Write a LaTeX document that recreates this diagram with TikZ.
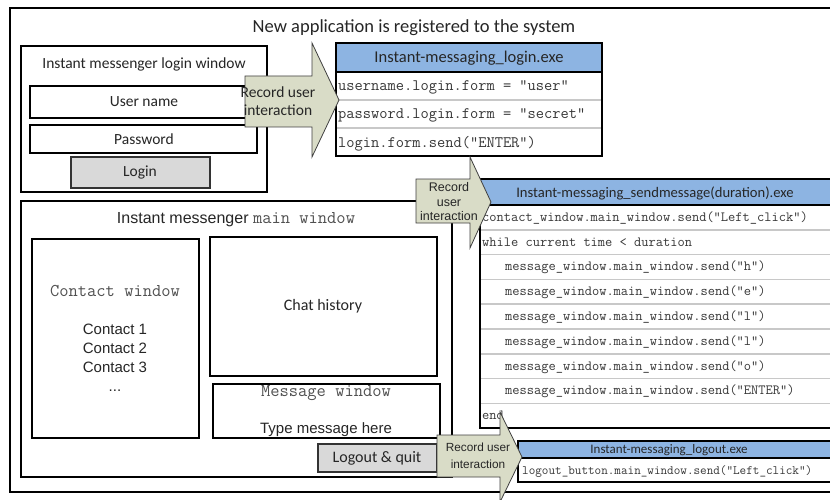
\documentclass[tikz,border=0pt]{standalone}
\usepackage{fontspec}
\setmainfont{Carlito}
\newfontfamily\arialf{Liberation Sans}
\definecolor{arrowfill}{RGB}{217,220,199}
\definecolor{hdrblue}{RGB}{141,180,226}
\definecolor{btngray}{RGB}{217,217,217}
\definecolor{codegray}{RGB}{55,55,55}
\definecolor{sepgray}{RGB}{200,200,200}
\definecolor{monogray}{RGB}{80,80,80}
\tikzset{
  frame/.style={draw=black, line width=1.3pt},
  winbox/.style={draw=black, line width=1.2pt},
  btn/.style={draw=black!80, line width=1.2pt, fill=btngray},
  hdr/.style={draw=black, line width=1.3pt, fill=hdrblue},
  sepline/.style={draw=sepgray, line width=1.5pt},
  recarrow/.style={draw=black!75, line width=0.8pt, fill=arrowfill},
  txt/.style={inner sep=0pt, text=black!85},
  code/.style={inner sep=0pt, anchor=base west, text=codegray},
}
\begin{document}
\begin{tikzpicture}[x=1pt,y=-1pt]
\useasboundingbox (0,0) rectangle (830,500);
\clip (0,0) rectangle (830,500);
\fill[white] (0,0) rectangle (830,500);

% outer frame and title
\draw[frame] (10,8) rectangle (845,492);
\node[txt] (title) at (414,28) {\fontsize{18.5}{22}\selectfont New application is registered to the system};

% login window
\draw[winbox] (21,46) rectangle (267,192);
\node[txt] (logtitle) at (144,64) {\fontsize{15.5}{18}\selectfont Instant messenger login window};
\draw[winbox] (30,86) rectangle (257,118);
\node[txt] (user) at (144,102) {\fontsize{15.5}{18}\selectfont User name};
\draw[winbox] (30,125) rectangle (257,153);
\node[txt] (pass) at (144,139) {\fontsize{15.5}{18}\selectfont Password};
\draw[btn] (71,157) rectangle (210,188);
\node[txt] (login) at (140,172) {\fontsize{15.5}{18}\selectfont Login};

% main window
\draw[winbox] (21,201) rectangle (452,477);
\node[txt, anchor=base] (maintitle) at (236,223) {\arialf\fontsize{16}{19}\selectfont Instant messenger \textcolor{monogray}{\ttfamily\fontsize{18}{20}\selectfont main window}};
\draw[winbox] (32,239) rectangle (199,438);
\node[txt, text=monogray] (contactw) at (115,291) {\ttfamily\fontsize{18}{20}\selectfont Contact window};
\node[txt, align=center, font=\arialf\fontsize{15}{19}\selectfont] (contacts) at (115,358) {Contact 1\\Contact 2\\Contact 3\\...};
\draw[winbox] (210,237) rectangle (437,376);
\node[txt] (chat) at (323,306) {\fontsize{16}{19}\selectfont Chat history};
\draw[winbox] (213,384) rectangle (440,438);
\node[txt, text=monogray] (msgw) at (326,393) {\ttfamily\fontsize{18}{20}\selectfont Message window};
\node[txt] (typemsg) at (326,430) {\arialf\fontsize{15}{18}\selectfont Type message here};
\draw[btn] (318,444) rectangle (437,472);
\node[txt] (logoutbtn) at (377,458) {\fontsize{16}{19}\selectfont Logout \& quit};

% table 1: login
\draw[hdr] (336,43) rectangle (602,72);
\node[txt] (h1) at (469,58) {\fontsize{16.5}{19}\selectfont Instant-messaging\_login.exe};
\draw[sepline] (337,100) -- (601,100);
\draw[sepline] (337,128) -- (601,128);
\draw[winbox] (336,72) rectangle (602,156);
\node[code] (t1a) at (338,91) {\ttfamily\fontsize{16}{18}\selectfont username.login.form = "user"};
\node[code] (t1b) at (338,119) {\ttfamily\fontsize{16}{18}\selectfont password.login.form = "secret"};
\node[code] (t1c) at (338,147) {\ttfamily\fontsize{16}{18}\selectfont login.form.send("ENTER")};

% table 2: sendmessage
\draw[hdr] (480,179) rectangle (840,205);
\node[txt] (h2) at (655,193) {\fontsize{14.6}{17}\selectfont Instant-messaging\_sendmessage(duration).exe};
\foreach \k in {1,...,8} {
  \draw[sepline] (481,205+\k*24.8) -- (839,205+\k*24.8);
}
\draw[winbox] (480,205) rectangle (840,428);
\foreach \k/\s/\ind in {
  1/{contact\_window.main\_window.send("Left\_click")}/0,
  2/{while current time < duration}/0,
  3/{message\_window.main\_window.send("h")}/1,
  4/{message\_window.main\_window.send("e")}/1,
  5/{message\_window.main\_window.send("l")}/1,
  6/{message\_window.main\_window.send("l")}/1,
  7/{message\_window.main\_window.send("o")}/1,
  8/{message\_window.main\_window.send("ENTER")}/1,
  9/{end}/0} {
  \node[code] (t2r\k) at (482+\ind*23,205+\k*24.8-8.5) {\ttfamily\fontsize{14.05}{16}\selectfont \s};
}

% table 3: logout
\draw[hdr] (518,441) rectangle (840,458);
\node[txt] (h3) at (669,450) {\fontsize{13}{15}\selectfont Instant-messaging\_logout.exe};
\draw[winbox] (518,458) rectangle (840,482);
\node[code] (t3a) at (522,474) {\ttfamily\fontsize{12.8}{14}\selectfont logout\_button.main\_window.send("Left\_click")};

% record arrows
\draw[recarrow] (245,76) -- (312,76) -- (312,43) -- (339,100) -- (312,157) -- (312,127) -- (245,127) -- cycle;
\node[txt, align=center, font=\fontsize{15.5}{18.5}\selectfont] (rec1) at (278,101) {Record user\\interaction};

\draw[recarrow] (416,179) -- (470,179) -- (470,157) -- (491,202) -- (470,248) -- (470,223) -- (416,223) -- cycle;
\node[txt, align=center, font=\arialf\fontsize{12.5}{14.5}\selectfont] (rec2) at (449,202) {Record\\user\\interaction};

\draw[recarrow] (437,435) -- (500,435) -- (500,412) -- (522,457) -- (500,502) -- (500,477) -- (437,477) -- cycle;
\node[txt, align=center, font=\arialf\fontsize{11.8}{17}\selectfont] (rec3) at (478,456) {Record user\\interaction};
\end{tikzpicture}
\end{document}
